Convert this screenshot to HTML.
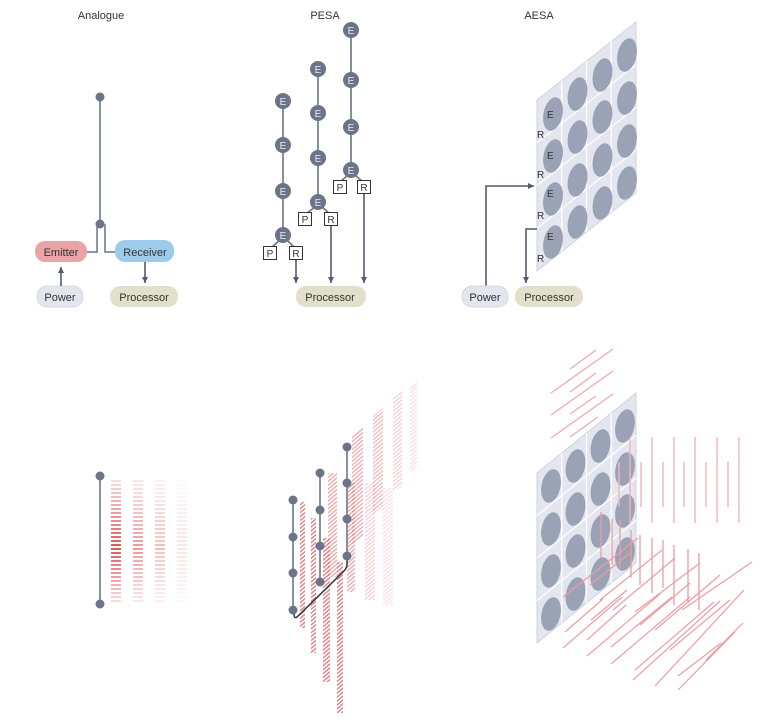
<!DOCTYPE html>
<html><head><meta charset="utf-8"><style>
html,body{margin:0;padding:0;background:#fff;}
svg{display:block;font-family:"Liberation Sans",sans-serif;}
</style></head><body>
<svg width="781" height="728" viewBox="0 0 781 728" xmlns="http://www.w3.org/2000/svg">
<defs>
<marker id="ah" markerWidth="8" markerHeight="8" refX="6" refY="4" orient="auto" markerUnits="userSpaceOnUse"><path d="M0,1 L6,4 L0,7 Z" fill="#4f5b73"/></marker>
<pattern id="dash" width="10" height="4" patternUnits="userSpaceOnUse"><rect x="0" y="0" width="10" height="2" fill="#d9464a"/></pattern>
<pattern id="hatch" width="3" height="3" patternUnits="userSpaceOnUse" patternTransform="rotate(-40)"><rect x="0" y="0" width="3" height="1.3" fill="#e0666b"/></pattern>
<linearGradient id="vg" x1="0" y1="0" x2="0" y2="1"><stop offset="0" stop-color="#fff" stop-opacity="0.15"/><stop offset="0.55" stop-color="#fff" stop-opacity="1"/><stop offset="1" stop-color="#fff" stop-opacity="0.15"/></linearGradient>
<mask id="vm" maskUnits="userSpaceOnUse" x="100" y="470" width="100" height="140"><rect x="100" y="476" width="100" height="130" fill="url(#vg)"/></mask>
<ellipse id="el" cx="0" cy="0" rx="9.5" ry="17" transform="rotate(12)"/>
</defs>

<g fill="#333" font-size="11" text-anchor="middle">
<text x="101" y="19">Analogue</text>
<text x="325" y="19">PESA</text>
<text x="539" y="19">AESA</text>
</g>

<!-- Analogue top -->
<g stroke="#8791a6" stroke-width="2" fill="none">
<line x1="100" y1="97" x2="100" y2="224"/>
<polyline points="87,252 97,252 97,225 105,225 105,252 115,252" stroke="#6b7488" stroke-width="1.5"/>
</g>
<circle cx="100" cy="97" r="4.5" fill="#6b7488"/>
<circle cx="100" cy="224" r="4.5" fill="#6b7488"/>
<rect x="35" y="241" width="52" height="21" rx="10" fill="#eba3a8"/>
<rect x="115" y="240" width="59" height="22" rx="10" fill="#9dcbeb"/>
<rect x="37" y="286" width="46" height="21" rx="10" fill="#e4e6ef" stroke="#d6d9e3"/>
<rect x="110" y="286" width="68" height="21" rx="10" fill="#e2e0cb"/>
<g font-size="11" fill="#333" text-anchor="middle">
<text x="61" y="256">Emitter</text><text x="145" y="256">Receiver</text>
<text x="60" y="301">Power</text><text x="144" y="301">Processor</text>
</g>
<g stroke="#4f5b73" stroke-width="1.6" marker-end="url(#ah)">
<line x1="61" y1="286" x2="61" y2="267"/>
<line x1="145" y1="262" x2="145" y2="283"/>
</g>

<!-- PESA top -->
<g stroke="#6b7488" stroke-width="1.6">
<line x1="283" y1="101" x2="283" y2="235"/>
<line x1="318" y1="69" x2="318" y2="202"/>
<line x1="351" y1="30" x2="351" y2="170"/>
<line x1="280" y1="240" x2="272" y2="247"/><line x1="287" y1="240" x2="294" y2="247"/>
<line x1="315" y1="207" x2="307" y2="213"/><line x1="322" y1="207" x2="329" y2="213"/>
<line x1="348" y1="175" x2="341" y2="181"/><line x1="355" y1="175" x2="362" y2="181"/>
</g>
<g fill="#6b7488">
<circle cx="283" cy="101" r="8"/><circle cx="283" cy="145" r="8"/><circle cx="283" cy="191" r="8"/><circle cx="283" cy="235" r="8"/>
<circle cx="318" cy="69" r="8"/><circle cx="318" cy="113" r="8"/><circle cx="318" cy="158" r="8"/><circle cx="318" cy="202" r="8"/>
<circle cx="351" cy="30" r="8"/><circle cx="351" cy="80" r="8"/><circle cx="351" cy="127" r="8"/><circle cx="351" cy="170" r="8"/>
</g>
<g fill="#e8eaf0" font-size="10" text-anchor="middle">
<text x="283" y="105">E</text><text x="283" y="149">E</text><text x="283" y="195">E</text><text x="283" y="239">E</text>
<text x="318" y="73">E</text><text x="318" y="117">E</text><text x="318" y="162">E</text><text x="318" y="206">E</text>
<text x="351" y="34">E</text><text x="351" y="84">E</text><text x="351" y="131">E</text><text x="351" y="174">E</text>
</g>
<g fill="#fff" stroke="#333" stroke-width="1">
<rect x="263.5" y="246.5" width="13" height="13"/><rect x="289.5" y="246.5" width="13" height="13"/>
<rect x="298.5" y="212.5" width="13" height="13"/><rect x="324.5" y="212.5" width="13" height="13"/>
<rect x="333.5" y="180.5" width="13" height="13"/><rect x="357.5" y="180.5" width="13" height="13"/>
</g>
<g fill="#333" font-size="10" text-anchor="middle">
<text x="270" y="257">P</text><text x="296" y="257">R</text>
<text x="305" y="223">P</text><text x="331" y="223">R</text>
<text x="340" y="191">P</text><text x="364" y="191">R</text>
</g>
<g stroke="#4f5b73" stroke-width="1.6" marker-end="url(#ah)">
<line x1="296" y1="260" x2="296" y2="283"/>
<line x1="331" y1="226" x2="331" y2="283"/>
<line x1="364" y1="194" x2="364" y2="283"/>
</g>
<rect x="296" y="286" width="70" height="21" rx="10" fill="#e2e0cb"/>
<text x="330" y="301" font-size="11" fill="#333" text-anchor="middle">Processor</text>

<!-- AESA top -->
<g transform="matrix(24.75,-19.5,0,42.75,537,100)">
<polygon points="0,0 4,0 4,4 0,4" fill="#e4e6ef" stroke="#cfd3de" stroke-width="1" vector-effect="non-scaling-stroke"/>
<g stroke="#fff" stroke-width="1.2">
<line x1="1" y1="0" x2="1" y2="4" vector-effect="non-scaling-stroke"/><line x1="2" y1="0" x2="2" y2="4" vector-effect="non-scaling-stroke"/><line x1="3" y1="0" x2="3" y2="4" vector-effect="non-scaling-stroke"/>
<line x1="0" y1="1" x2="4" y2="1" vector-effect="non-scaling-stroke"/><line x1="0" y1="2" x2="4" y2="2" vector-effect="non-scaling-stroke"/><line x1="0" y1="3" x2="4" y2="3" vector-effect="non-scaling-stroke"/>
</g>
</g>
<g fill="#9aa3b5">
<use href="#el" x="553" y="114"/><use href="#el" x="553" y="156"/><use href="#el" x="553" y="199"/><use href="#el" x="553" y="242"/>
<use href="#el" x="577.5" y="94"/><use href="#el" x="577.5" y="137"/><use href="#el" x="577.5" y="180"/><use href="#el" x="577.5" y="222"/>
<use href="#el" x="602.5" y="75"/><use href="#el" x="602.5" y="117"/><use href="#el" x="602.5" y="160"/><use href="#el" x="602.5" y="203"/>
<use href="#el" x="627" y="55"/><use href="#el" x="627" y="98"/><use href="#el" x="627" y="141"/><use href="#el" x="627" y="183"/>
</g>
<g fill="#333" font-size="10">
<text x="547" y="118">E</text><text x="547" y="159">E</text><text x="547" y="197">E</text><text x="547" y="240">E</text>
<text x="537" y="138">R</text><text x="537" y="178">R</text><text x="537" y="219">R</text><text x="537" y="262">R</text>
</g>
<g stroke="#4f5b73" stroke-width="1.6" fill="none" marker-end="url(#ah)">
<polyline points="486,286 486,186 534,186"/>
<polyline points="537,229 526,229 526,283"/>
</g>
<rect x="462" y="286" width="46" height="21" rx="10" fill="#e4e6ef" stroke="#d6d9e3"/>
<rect x="515" y="286" width="68" height="21" rx="10" fill="#e2e0cb"/>
<text x="485" y="301" font-size="11" fill="#333" text-anchor="middle">Power</text>
<text x="549" y="301" font-size="11" fill="#333" text-anchor="middle">Processor</text>

<!-- Analogue bottom -->
<g mask="url(#vm)">
<rect x="111" y="478" width="10" height="126" fill="url(#dash)" opacity="0.9"/>
<rect x="133" y="478" width="10" height="126" fill="url(#dash)" opacity="0.55"/>
<rect x="155" y="478" width="10" height="126" fill="url(#dash)" opacity="0.35"/>
<rect x="177" y="478" width="10" height="126" fill="url(#dash)" opacity="0.15"/>
</g>
<line x1="100" y1="476" x2="100" y2="604" stroke="#8791a6" stroke-width="2"/>
<circle cx="100" cy="476" r="4.5" fill="#6b7488"/><circle cx="100" cy="604" r="4.5" fill="#6b7488"/>

<!-- PESA bottom -->
<g fill="url(#hatch)">
<polygon points="410,386 417,380 417,466 410,472" opacity="0.2"/>
<polygon points="393,398 402,391 402,486 393,493" opacity="0.3"/>
<polygon points="373,416 383,408 383,506 373,514" opacity="0.45"/>
<polygon points="352,435 363,427 363,536 352,544" opacity="0.55"/>
<polygon points="383,488 393,488 393,605 383,605" opacity="0.2"/>
<polygon points="365,483 375,483 375,600 365,600" opacity="0.3"/>
<polygon points="347,482 355,482 355,592 347,592" opacity="0.6"/>
<polygon points="328,473 337,473 337,577 328,577" opacity="0.6"/>
<polygon points="300,502 305,502 305,628 300,628" opacity="0.9"/>
<polygon points="311,518 316,518 316,653 311,653" opacity="0.9"/>
<polygon points="323,538 330,538 330,682 323,682" opacity="0.9"/>
<polygon points="337,562 343,562 343,713 337,713" opacity="0.9"/>
</g>
<g stroke="#8791a6" stroke-width="2">
<line x1="293" y1="500" x2="293" y2="610"/><line x1="320" y1="473" x2="320" y2="582"/><line x1="347" y1="447" x2="347" y2="556"/>
</g>
<path d="M347,556 L347,564 Q347,568 344,571 L297,617 Q294,619 294,614 L293,610" fill="none" stroke="#333" stroke-width="1.5"/>
<g fill="#6b7488">
<circle cx="293" cy="500" r="4.5"/><circle cx="293" cy="537" r="4.5"/><circle cx="293" cy="573" r="4.5"/><circle cx="293" cy="610" r="4.5"/>
<circle cx="320" cy="473" r="4.5"/><circle cx="320" cy="510" r="4.5"/><circle cx="320" cy="546" r="4.5"/><circle cx="320" cy="582" r="4.5"/>
<circle cx="347" cy="447" r="4.5"/><circle cx="347" cy="483" r="4.5"/><circle cx="347" cy="519" r="4.5"/><circle cx="347" cy="556" r="4.5"/>
</g>

<!-- AESA bottom -->
<g stroke="#ef9a9e" stroke-width="1.3" opacity="0.85">
<line x1="570" y1="369" x2="596" y2="350"/><line x1="551" y1="393" x2="613" y2="349"/>
<line x1="570" y1="392" x2="596" y2="373"/><line x1="551" y1="415" x2="613" y2="371"/>
<line x1="570" y1="414" x2="596" y2="396"/><line x1="551" y1="438" x2="613" y2="394"/>
<line x1="570" y1="437" x2="598" y2="417"/>
</g>
<g transform="matrix(24.75,-20,0,42.5,537,473)">
<polygon points="0,0 4,0 4,4 0,4" fill="#e4e6ef" stroke="#cfd3de" stroke-width="1" vector-effect="non-scaling-stroke"/>
<g stroke="#fff" stroke-width="1.2">
<line x1="1" y1="0" x2="1" y2="4" vector-effect="non-scaling-stroke"/><line x1="2" y1="0" x2="2" y2="4" vector-effect="non-scaling-stroke"/><line x1="3" y1="0" x2="3" y2="4" vector-effect="non-scaling-stroke"/>
<line x1="0" y1="1" x2="4" y2="1" vector-effect="non-scaling-stroke"/><line x1="0" y1="2" x2="4" y2="2" vector-effect="non-scaling-stroke"/><line x1="0" y1="3" x2="4" y2="3" vector-effect="non-scaling-stroke"/>
</g>
</g>
<g fill="#9aa3b5">
<use href="#el" x="551" y="486"/><use href="#el" x="551" y="529"/><use href="#el" x="551" y="571"/><use href="#el" x="551" y="614"/>
<use href="#el" x="575.5" y="466"/><use href="#el" x="575.5" y="509"/><use href="#el" x="575.5" y="551"/><use href="#el" x="575.5" y="594"/>
<use href="#el" x="600.5" y="446"/><use href="#el" x="600.5" y="489"/><use href="#el" x="600.5" y="531"/><use href="#el" x="600.5" y="574"/>
<use href="#el" x="625" y="426"/><use href="#el" x="625" y="469"/><use href="#el" x="625" y="511"/><use href="#el" x="625" y="554"/>
</g>
<g stroke="#f2b6b9" stroke-width="1.6" opacity="0.9">
<line x1="630" y1="437" x2="630" y2="523"/><line x1="652" y1="437" x2="652" y2="523"/><line x1="674" y1="437" x2="674" y2="523"/>
<line x1="695" y1="437" x2="695" y2="523"/><line x1="717" y1="437" x2="717" y2="523"/><line x1="739" y1="437" x2="739" y2="523"/>
<line x1="619" y1="462" x2="619" y2="507"/><line x1="641" y1="462" x2="641" y2="507"/><line x1="663" y1="462" x2="663" y2="507"/>
<line x1="684" y1="462" x2="684" y2="507"/><line x1="706" y1="462" x2="706" y2="507"/><line x1="728" y1="462" x2="728" y2="507"/>
</g>
<g stroke="#ee9ca0" stroke-width="1.3">
<line x1="601" y1="512" x2="601" y2="558"/><line x1="612" y1="519" x2="612" y2="565"/><line x1="620" y1="519" x2="620" y2="568"/>
<line x1="631" y1="530" x2="631" y2="578"/><line x1="640" y1="535" x2="640" y2="585"/><line x1="652" y1="538" x2="652" y2="593"/>
<line x1="663" y1="540" x2="663" y2="588"/><line x1="674" y1="545" x2="674" y2="605"/><line x1="688" y1="549" x2="688" y2="603"/>
<line x1="699" y1="553" x2="699" y2="610"/>
</g>
<g stroke="#ee9ca0" stroke-width="1.2">
<line x1="563" y1="597" x2="638" y2="538"/><line x1="590" y1="585" x2="630" y2="553"/>
<line x1="565" y1="632" x2="603" y2="599"/><line x1="563" y1="648" x2="622" y2="597"/>
<line x1="587" y1="640" x2="626" y2="605"/><line x1="587" y1="656" x2="660" y2="594"/>
<line x1="611" y1="647" x2="672" y2="597"/><line x1="611" y1="664" x2="690" y2="597"/>
<line x1="635" y1="670" x2="714" y2="602"/><line x1="633" y1="680" x2="720" y2="601"/>
<line x1="655" y1="686" x2="744" y2="590"/><line x1="678" y1="690" x2="735" y2="632"/>
<line x1="678" y1="676" x2="721" y2="643"/><line x1="591" y1="620" x2="627" y2="590"/>
<line x1="600" y1="600" x2="662" y2="550"/><line x1="613" y1="610" x2="675" y2="558"/>
<line x1="635" y1="612" x2="700" y2="563"/><line x1="655" y1="630" x2="720" y2="575"/>
<line x1="682" y1="610" x2="752" y2="562"/><line x1="640" y1="625" x2="690" y2="583"/>
<line x1="670" y1="650" x2="730" y2="600"/><line x1="706" y1="660" x2="743" y2="623"/>
</g>
</svg>
</body></html>
